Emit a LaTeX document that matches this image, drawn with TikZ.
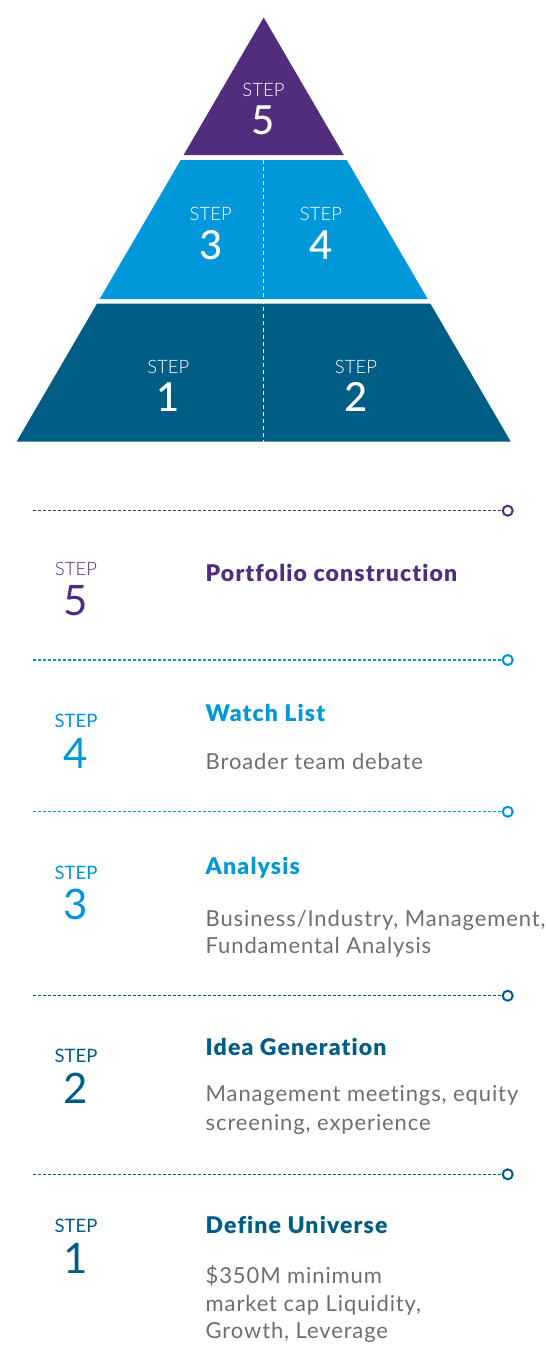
\documentclass[tikz,border=0pt]{standalone}
\usepackage{fontspec}
\setmainfont{Lato}
\newfontfamily\lightfont{Lato Light}
\newfontfamily\medfont{Lato Medium}
\newfontfamily\headfont{Lato Black}[LetterSpace=5, Ligatures={NoCommon,NoRare}]
\newfontfamily\bodyfont{Lato}[LetterSpace=4, Ligatures={NoCommon,NoRare}]
\definecolor{cpurple}{HTML}{512D7E}
\definecolor{clight}{HTML}{0098DA}
\definecolor{cdark}{HTML}{005D86}
\definecolor{cgray}{HTML}{6D6E71}
\tikzset{
  steplbl/.style={font=\lightfont\fontsize{18.5}{18}\selectfont, inner sep=0pt},
  stepnum/.style={font=\medfont\fontsize{40}{40}\selectfont, inner sep=0pt},
  lsteplbl/.style={font=\fontsize{18.5}{18}\selectfont, inner sep=0pt},
  lstepnum/.style={font=\fontsize{42}{42}\selectfont, inner sep=0pt},
  heading/.style={font=\headfont\fontsize{23}{23}\selectfont, anchor=base west, inner sep=0pt},
  body/.style={font=\bodyfont\fontsize{22}{27.3}\selectfont, text=cgray, anchor=base west, inner sep=0pt, align=left},
  sepline/.style={dash pattern=on 3pt off 2pt, line width=1.1pt},
  dotend/.style={circle, draw, line width=2pt, minimum size=10pt, inner sep=0pt, fill=white},
}
\begin{document}
\begin{tikzpicture}[x=1pt,y=-1pt]
\useasboundingbox (0,0) rectangle (546,1371);
% pyramid
\fill[cpurple] (263.7,17.5) -- (343.8,155) -- (183.6,155) -- cycle;
\fill[clight] (180.7,160) -- (346.7,160) -- (427.7,299) -- (99.7,299) -- cycle;
\fill[cdark] (97.1,303.5) -- (430.3,303.5) -- (510.7,441.5) -- (16.7,441.5) -- cycle;
\draw[white, line width=0.8pt, dash pattern=on 4pt off 3pt] (263.7,160) -- (263.7,441.5);
\node[steplbl, text=white] (p5s) at (263.5,90) {STEP};
\node[stepnum, text=white] (p5n) at (263.5,120) {5};
\node[steplbl, text=white] (p3s) at (210.7,214) {STEP};
\node[stepnum, text=white] (p3n) at (210.7,245.5) {3};
\node[steplbl, text=white] (p4s) at (321,214) {STEP};
\node[stepnum, text=white] (p4n) at (321,245.5) {4};
\node[steplbl, text=white] (p1s) at (168.3,366.7) {STEP};
\node[stepnum, text=white] (p1n) at (168.3,396.7) {1};
\node[steplbl, text=white] (p2s) at (356,366.7) {STEP};
\node[stepnum, text=white] (p2n) at (356,396.7) {2};
% separators
\coordinate (l5) at (33.3,510.7);
\node[dotend, draw=cpurple] (d5) at (507.7,510.7) {};
\draw[sepline, cpurple] (l5) -- (d5);
\coordinate (l4) at (33.3,660);
\node[dotend, draw=clight] (d4) at (507.7,660) {};
\draw[sepline, clight] (l4) -- (d4);
\coordinate (l3) at (33.3,811.7);
\node[dotend, draw=clight] (d3) at (507.7,811.7) {};
\draw[sepline, clight] (l3) -- (d3);
\coordinate (l2) at (33.3,995.7);
\node[dotend, draw=cdark] (d2) at (507.7,995.7) {};
\draw[sepline, cdark] (l2) -- (d2);
\coordinate (l1) at (33.3,1174.3);
\node[dotend, draw=cdark] (d1) at (507.7,1174.3) {};
\draw[sepline, cdark] (l1) -- (d1);
% step 5
\node[lsteplbl, text=cpurple, font=\lightfont\fontsize{18.5}{18}\selectfont] (s5) at (76,569) {STEP};
\node[lstepnum, text=cpurple] (n5) at (76,601) {5};
\node[heading, text=cpurple] (h5) at (205.5,581.7) {Portfolio construction};
% step 4
\node[lsteplbl, text=clight] (s4) at (76,720.7) {STEP};
\node[lstepnum, text=clight] (n4) at (76,753) {4};
\node[heading, text=clight] (h4) at (205.5,721) {Watch List};
\node[body] (b4) at (205.5,769.3) {Broader team debate};
% step 3
\node[lsteplbl, text=clight] (s3) at (76,872.7) {STEP};
\node[lstepnum, text=clight] (n3) at (76,904) {3};
\node[heading, text=clight] (h3) at (205.5,874) {Analysis};
\node[body] (b3) at (205.5,953.3) {Business/Industry, Management,\\Fundamental Analysis};
% step 2
\node[lsteplbl, text=cdark] (s2) at (76,1055.7) {STEP};
\node[lstepnum, text=cdark] (n2) at (76,1088) {2};
\node[heading, text=cdark] (h2) at (205.5,1055.7) {Idea Generation};
\node[body, font=\bodyfont\fontsize{22}{28.3}\selectfont] (b2) at (205.5,1130) {Management meetings, equity\\screening, experience};
% step 1
\node[lsteplbl, text=cdark] (s1) at (76,1225.7) {STEP};
\node[lstepnum, text=cdark] (n1) at (76,1258) {1};
\node[heading, text=cdark] (h1) at (205.5,1233.3) {Define Universe};
\node[body] (b1) at (205.5,1338.4) {\$350M minimum\\market cap Liquidity,\\Growth, Leverage};
\end{tikzpicture}
\end{document}
